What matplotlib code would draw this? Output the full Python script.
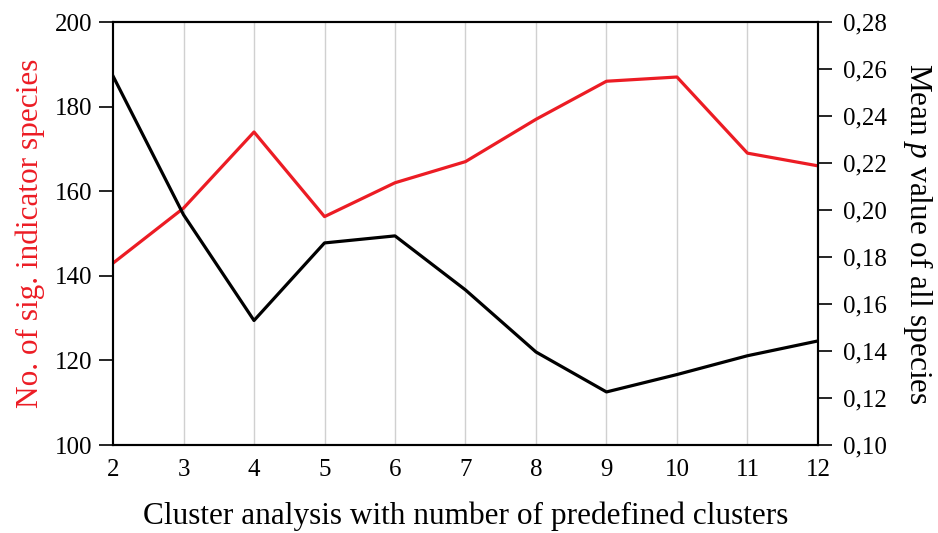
import matplotlib
matplotlib.use('Agg')
import matplotlib.pyplot as plt
from matplotlib.ticker import FuncFormatter

plt.rcParams['font.family'] = ['Liberation Serif', 'DejaVu Serif']
plt.rcParams['mathtext.fontset'] = 'custom'
plt.rcParams['mathtext.rm'] = 'Liberation Serif'
plt.rcParams['mathtext.it'] = 'Liberation Serif:italic'

clusters = [2, 3, 4, 5, 6, 7, 8, 9, 10, 11, 12]
n_indicator = [143, 156, 174, 154, 162, 167, 177, 186, 187, 169, 166]
mean_p = [0.257, 0.198, 0.153, 0.186, 0.189, 0.166, 0.1396, 0.1226, 0.130, 0.138, 0.1443]

red = '#ec1c24'

fig = plt.figure(figsize=(9.38, 5.33), dpi=100)
ax1 = fig.add_axes([0.1205, 0.165, 0.7515, 0.7937])
ax2 = ax1.twinx()

for x in clusters[1:-1]:
    ax1.axvline(x, color='#d0d0d0', linewidth=1, zorder=0)

ax1.plot(clusters, n_indicator, color=red, linewidth=2.3, zorder=3)
ax2.plot(clusters, mean_p, color='black', linewidth=2.3, zorder=3)

ax1.set_xlim(2, 12)
ax1.set_ylim(100, 200)
ax2.set_ylim(0.10, 0.28)
ax1.set_xticks(clusters)
ax1.set_yticks(range(100, 201, 20))
ax2.set_yticks([0.10, 0.12, 0.14, 0.16, 0.18, 0.20, 0.22, 0.24, 0.26, 0.28])
ax2.yaxis.set_major_formatter(FuncFormatter(lambda v, p: f'{v:.2f}'.replace('.', ',')))

ax1.tick_params(axis='x', length=0, labelsize=18, pad=10)
ax1.tick_params(axis='y', direction='out', length=10, width=1.2, labelsize=18, pad=5)
ax2.tick_params(axis='y', direction='out', length=10, width=1.2, labelsize=18, pad=8)

for ax in (ax1, ax2):
    for s in ax.spines.values():
        s.set_linewidth(1.5)
ax1.spines['left'].set_color('#555555')

ax1.set_ylabel('No. of sig. indicator species', color=red, fontsize=22.5, labelpad=7)
ax2.set_ylabel('Mean $p$ value of all species', fontsize=22.5, rotation=270, labelpad=35)
ax1.set_xlabel('Cluster analysis with number of predefined clusters', fontsize=22.5, labelpad=15)

fig.savefig('out.png', dpi=100)
